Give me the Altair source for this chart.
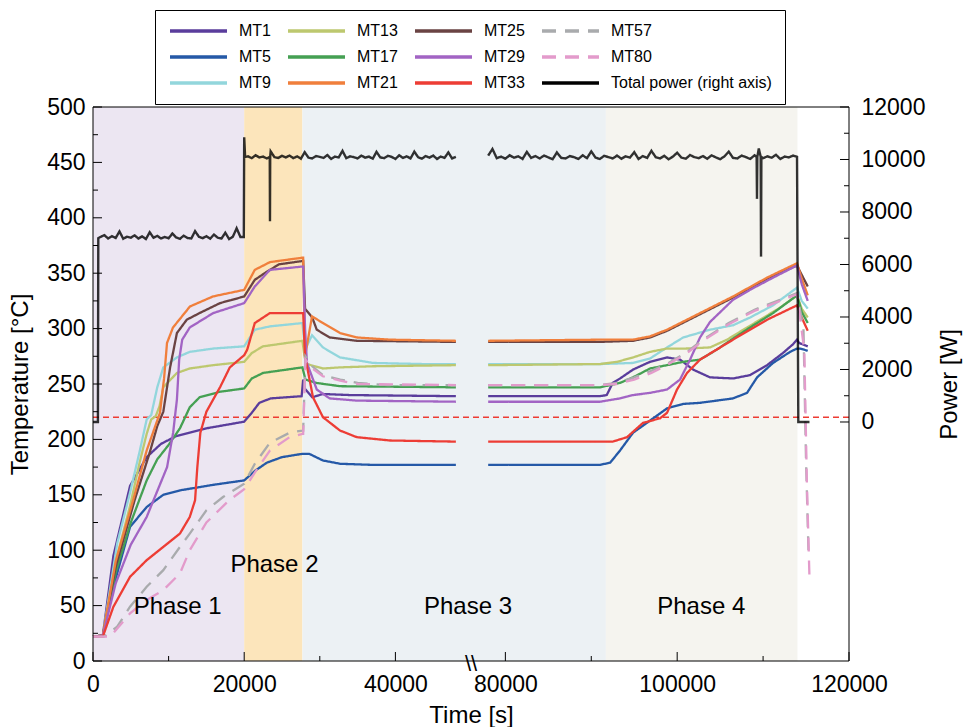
import altair as alt
import pandas as pd

FONT = "Liberation Sans"
POWER = "Total power (right axis)"
W, H = 756, 554  # plot area in px

# ---------------------------------------------------------------------------
# Thermocouple readings: time [s] and temperature [°C]
# ---------------------------------------------------------------------------
MT1_t = [0, 1300, 2700, 4900, 7100, 9000, 11000, 15000, 20000, 21000, 22000, 23500, 27600,
         27800, 28000, 29000, 30400, 34000, 48000,
         78000, 91000, 91800, 92500, 93350, 94860, 96840, 98820, 100330, 101850, 103820,
         106500, 108480, 110460, 112320, 113500, 113950, 114200, 115200]
MT1_v = [22, 23, 95, 158, 184, 196, 203, 210, 216, 224, 233, 237, 239,
         254, 246, 238, 241, 240, 239,
         239, 239, 240, 251, 255, 263, 270, 274, 272, 263, 256,
         255, 258, 267, 278, 286, 290, 287, 284]

MT5_t = [0, 1300, 2700, 4900, 7100, 9300, 11500, 15900, 20000, 21500, 23000, 25000, 27700,
         28600, 30400, 32700, 37000, 48000,
         78000, 91000, 92200, 93350, 94860, 96840, 98820, 100680, 102660, 106500, 108130,
         109300, 111160, 113140, 113950, 114300, 115200]
MT5_v = [22, 23, 67, 121, 139, 150, 154, 159, 163, 172, 179, 184, 187,
         187, 181, 178, 177, 177,
         177, 177, 179, 190, 206, 217, 228, 232, 233, 237, 242,
         256, 269, 279, 282, 282, 280]

MT9_t = [0, 1300, 3200, 4900, 6200, 7100, 7700, 8500, 9300, 11100, 12800, 15900, 20000,
         21400, 23400, 27700,
         28050, 28970, 30420, 32670, 37040, 43650, 48000,
         78000, 91000, 94860, 96840, 98820, 100700, 103820, 106500, 108480, 111160, 113950,
         114500, 115200]
MT9_v = [22, 23, 106, 152, 190, 218, 222, 247, 265, 274, 279, 282, 284,
         299, 302, 305,
         281, 294, 283, 274, 269, 268, 268,
         268, 268, 269, 273, 283, 292, 299, 303, 310, 321, 337,
         325, 318]

MT13_t = [0, 1300, 3200, 4900, 6200, 7100, 7700, 8300, 8800, 9300, 11100, 12800, 15900, 20000,
          21000, 22500, 27700,
          28000, 28300, 30400, 32700, 37000, 48000,
          78000, 91000, 93000, 94860, 96840, 98820, 101000, 103820, 105800, 107700, 109650,
          112000, 113950, 114500, 115200]
MT13_v = [22, 23, 95, 140, 180, 205, 218, 221, 230, 247, 260, 264, 267, 270,
          278, 284, 289,
          274, 268, 264, 265, 266, 267,
          267, 268, 270, 274, 279, 282, 282, 283, 290, 299, 308,
          319, 330, 318, 310]

MT17_t = [0, 1300, 3000, 5000, 7100, 8500, 10000, 11500, 12800, 14100, 16800, 20000,
          21000, 22500, 27700,
          28100, 29500, 32700, 48000,
          78000, 91000, 93350, 94860, 96840, 98820, 100700, 102660, 104600, 106500, 108480,
          111160, 113950, 114500, 115200]
MT17_v = [22, 23, 80, 125, 163, 182, 195, 210, 229, 238, 243, 246,
          255, 260, 265,
          254, 251, 248, 247,
          247, 247, 251, 256, 264, 267, 270, 272, 281, 291, 301,
          314, 330, 315, 305]

MT21_t = [0, 1300, 3000, 5300, 7100, 8860, 9400, 9790, 10580, 12830, 15870, 20000,
          21400, 23400, 27700,
          27800, 28050, 28970, 30420, 32670, 34900, 39300, 48000,
          78000, 91000, 94860, 96840, 98820, 102660, 106500, 110460, 113950, 114500, 115200]
MT21_v = [22, 23, 90, 145, 190, 224, 255, 287, 301, 320, 329, 335,
          353, 360, 364,
          364, 275, 311, 305, 296, 292, 290, 289,
          289, 290, 290, 293, 299, 314, 329, 346, 359, 345, 330]

MT25_t = [0, 1300, 3000, 5500, 7500, 8500, 9300, 10200, 11100, 12400, 14100, 16800, 20000,
          21400, 22700, 24600, 27700,
          27800, 28050, 29000, 29600, 31300, 34900, 48000,
          78000, 91000, 94860, 96840, 98820, 102660, 106500, 110460, 113950, 114400, 115200]
MT25_v = [22, 23, 85, 145, 188, 212, 225, 265, 296, 308, 314, 323, 329,
          344, 350, 358, 361,
          361, 318, 310, 299, 292, 289, 288,
          288, 288, 289, 292, 298, 313, 328, 345, 357, 350, 338]

MT29_t = [0, 1300, 3000, 5000, 7100, 9800, 10600, 11100, 11400, 11800, 12800, 15900, 20000,
          21400, 23400, 27700,
          27800, 28050, 28300, 29600, 31300, 34900, 48000,
          78000, 91000, 93350, 94860, 96840, 98820, 100330, 101500, 102660, 103820, 106500,
          108480, 111160, 113950, 114500, 115200]
MT29_v = [22, 23, 70, 105, 130, 175, 206, 236, 272, 290, 301, 314, 323,
          338, 353, 356,
          356, 300, 269, 245, 237, 235, 234,
          234, 234, 237, 240, 242, 245, 254, 272, 292, 306, 326,
          335, 346, 357, 340, 325]

MT33_t = [0, 1300, 2700, 4900, 7100, 9300, 11500, 12800, 13500, 13800, 14200, 15000, 16800,
          18100, 20000,
          20400, 21400, 23400, 27700,
          27800, 28050, 29100, 30420, 32670, 34900, 39300, 48000,
          78000, 92500, 94160, 96030, 98000, 98820, 99980, 101150, 102660, 106500, 110460,
          113950, 114500, 115200]
MT33_v = [22, 22, 49, 76, 91, 103, 115, 130, 145, 175, 206, 225, 247,
          265, 276,
          281, 305, 314, 314,
          314, 275, 238, 220, 208, 202, 199, 198,
          198, 198, 202, 215, 219, 224, 245, 260, 272, 290, 308,
          321, 310, 298]

MT57_t = [0, 1500, 3200, 4900, 7100, 9300, 11500, 12800, 15000, 17200, 20000,
          21400, 23400, 26000, 27700,
          27800, 28100, 29000, 30400, 32700, 35000, 39000, 48000,
          78000, 91000, 93000, 95000, 97000, 99000, 101000, 103000, 106000, 109000, 112000,
          113950, 114700, 115000, 115300]
MT57_v = [22, 22, 31, 49, 67, 82, 103, 115, 136, 148, 160,
          178, 197, 206, 208,
          208, 275, 266, 258, 254, 251, 249, 249,
          249, 249, 251, 256, 262, 269, 278, 290, 305, 317, 326,
          332, 300, 180, 95]

MT80_t = [0, 2300, 4900, 7100, 9300, 11500, 12800, 15000, 18000, 20000,
          21400, 23400, 26000, 27700,
          27800, 28100, 29000, 30400, 32700, 35000, 48000,
          78000, 91000, 93000, 95000, 97000, 99000, 101000, 103000, 106000, 109000, 112000,
          113950, 114800, 115100, 115400]
MT80_v = [22, 22, 43, 55, 64, 79, 100, 125, 145, 155,
          170, 190, 202, 205,
          205, 272, 264, 257, 253, 250, 249,
          249, 249, 250, 254, 260, 268, 277, 289, 304, 316, 325,
          331, 280, 160, 75]

# ---------------------------------------------------------------------------
# Heater power [W]: logged every 500 s, plus switching events and dips
# ---------------------------------------------------------------------------
PW1_start, PW1_w = 1000, [7050, 7120, 6990, 7080, 7010, 7260, 6980, 7060, 7020, 7110,
                          6990, 7070, 6970, 7230, 7020, 7090, 6990, 7050, 7000, 7180,
                          7030, 6980, 7100, 7010, 6990, 7270, 7060, 7000, 7080, 6980,
                          7140, 7020, 6990, 7210, 6970, 7060, 7380, 7050]
PW2_start, PW2_w = 20500, [10120, 10050, 10160, 10080, 10110, 10040, 10310, 10090, 10060, 10140,
                           10080, 10150, 10050, 10120, 10030, 10280, 10070, 10040, 10130, 10100,
                           10060, 10170, 10020, 10110, 10080, 10330, 10050, 10120, 10090, 10040,
                           10150, 10070, 10110, 10030, 10290, 10080, 10050, 10140, 10100, 10020,
                           10160, 10060, 10120, 10040, 10300, 10090, 10030, 10130, 10070, 10150,
                           10020, 10110, 10060, 10270, 10040, 10100]
PW3_start, PW3_w = 78000, [10150, 10400, 10050, 10110, 10030, 10160, 10070, 10120, 10020, 10290,
                           10060, 10130, 10040, 10150, 10080, 10010, 10270, 10060, 10040, 10130,
                           10090, 10020, 10160, 10050, 10310, 10070, 10020, 10140, 10090, 10040,
                           10150, 10030, 10120, 10070, 10280, 10020, 10130, 10060, 10330, 10090,
                           10040, 10140, 10010, 10110, 10260, 10070, 10030, 10170, 10090, 10050,
                           10130, 10030, 10160, 10080, 10010, 10120, 10300, 10060, 10040, 10150,
                           10090, 10020, 10160, 10420, 10050, 10120, 10070, 10180, 10020, 10110,
                           10080, 10150]
PW_events_t = [0, 650, 700, 19950, 20000, 20120, 23380, 23410, 23440,
               109250, 109290, 109330, 109720, 109760, 109800, 113950, 114100, 115400]
PW_events_w = [0, 0, 7000, 7050, 10850, 10100, 10100, 7650, 10100,
               10100, 8500, 10100, 10100, 6300, 10100, 10100, 0, 0]

# ---------------------------------------------------------------------------
# Test phases and their labels
# ---------------------------------------------------------------------------
phase_names = ["Phase 1", "Phase 2", "Phase 3", "Phase 4"]
phase_start = [0, 20000, 27700, 91700]
phase_end = [20000, 27700, 91700, 114000]
phase_fill = ["#ECE6F2", "#FCE5BB", "#ECF1F4", "#F5F4EF"]
label_t = [11200, 24000, 49600, 102800]
label_temp = [49, 87, 49, 49]

# Legend entries (a 3-row, 4-column legend filled column by column)
legend_order = ["MT1", "MT5", "MT9", "MT13", "MT17", "MT21",
                "MT25", "MT29", "MT33", "MT57", "MT80", POWER]
legend_colors = ["#5a3d9c", "#2559a7", "#92d6dc", "#bdc86f", "#45a053", "#f07f3c",
                 "#6a4343", "#a264c4", "#ed3d35", "#a9abad", "#e39bcb", "#000000"]
SOLID, DASHED = [1, 0], [14, 9]
legend_dash = [SOLID, SOLID, SOLID, SOLID, SOLID, SOLID,
               SOLID, SOLID, SOLID, DASHED, DASHED, SOLID]

# Axis ticks
temp_major = list(range(0, 501, 50))
temp_minor = list(range(25, 500, 50))
power_major = list(range(0, 12001, 2000))
power_minor = list(range(1000, 12000, 2000))
time_major = [0, 20000, 40000, 80000, 100000, 120000]
time_minor = [10000, 30000, 90000, 110000]

BREAK_LO, BREAK_HI = 50000, 76000  # gap in the time axis


def seg_of(t):
    return "early" if t <= BREAK_LO else "late"


temp_series = {
    "MT1": (MT1_t, MT1_v), "MT5": (MT5_t, MT5_v), "MT9": (MT9_t, MT9_v),
    "MT13": (MT13_t, MT13_v), "MT17": (MT17_t, MT17_v), "MT25": (MT25_t, MT25_v),
    "MT21": (MT21_t, MT21_v), "MT29": (MT29_t, MT29_v), "MT33": (MT33_t, MT33_v),
    "MT57": (MT57_t, MT57_v), "MT80": (MT80_t, MT80_v),
}
rows = []
for name, (ts, vs) in temp_series.items():
    for t, v in zip(ts, vs, strict=True):
        rows.append({"series": name, "t": t, "value": v, "seg": seg_of(t)})
temp_df = pd.DataFrame(rows)

pw_pts = list(zip(PW_events_t, PW_events_w, strict=True))
for start, ws in ((PW1_start, PW1_w), (PW2_start, PW2_w), (PW3_start, PW3_w)):
    pw_pts += [(start + 500 * i, w) for i, w in enumerate(ws)]
pw_pts.sort()
power_df = pd.DataFrame([{"series": POWER, "t": t, "value": w, "seg": seg_of(t)}
                         for t, w in pw_pts])

# ---------------------------------------------------------------------------
# Scales, axes, legend
# ---------------------------------------------------------------------------
xscale = alt.Scale(domain=[0, BREAK_LO, BREAK_HI, 120000], range=[0, 378, 378, W],
                   nice=False, zero=False)
tscale = alt.Scale(domain=[0, 500], nice=False, zero=False)
pscale = alt.Scale(domain=[-9105, 12000], nice=False, zero=False)

common_axis = dict(ticks=False, domain=False, grid=False, labelFlush=False,
                   labelFont=FONT, titleFont=FONT, labelFontSize=23, titleFontSize=24,
                   labelColor="black", titleColor="black", titleFontWeight="normal",
                   format="d")
x_axis = alt.Axis(values=time_major, title="Time [s]", labelPadding=12, titlePadding=7,
                  **common_axis)
left_axis = alt.Axis(values=temp_major, title="Temperature [°C]", labelPadding=8,
                     titlePadding=14, **common_axis)
right_axis = alt.Axis(values=power_major, title="Power [W]", orient="right", labelPadding=12,
                      titlePadding=37, titleAngle=270, **common_axis)

legend = alt.Legend(title=None, orient="none", legendX=62, legendY=-97, columns=4,
                    symbolType="stroke", symbolSize=3249, symbolStrokeWidth=3.5,
                    symbolOpacity=1, clipHeight=16, labelFont=FONT, labelFontSize=16,
                    labelColor="black", labelOffset=10, columnPadding=15, rowPadding=10,
                    padding=13, strokeColor="black", fillColor="white", labelLimit=400)
color_enc = alt.Color("series:N", scale=alt.Scale(domain=legend_order, range=legend_colors),
                      legend=legend)
dash_enc = alt.StrokeDash("series:N",
                          scale=alt.Scale(domain=legend_order, range=legend_dash),
                          legend=legend)

# ---------------------------------------------------------------------------
# Layers
# ---------------------------------------------------------------------------
phase_df = pd.DataFrame({"start": phase_start, "end": phase_end, "fill": phase_fill})
bands = alt.Chart(phase_df).mark_rect().encode(
    x=alt.X("start:Q", scale=xscale, axis=None), x2="end:Q",
    fill=alt.Fill("fill:N", scale=None, legend=None))

limit_line = alt.Chart(pd.DataFrame({"v": [220]})).mark_rule(
    color="#ee3b32", strokeDash=[6, 4], strokeWidth=1.3
).encode(y=alt.Y("v:Q", scale=tscale, axis=None))

temp_lines = alt.Chart(temp_df).mark_line(strokeWidth=2.3).encode(
    x=alt.X("t:Q", scale=xscale, axis=x_axis),
    y=alt.Y("value:Q", scale=tscale, axis=left_axis),
    color=color_enc, strokeDash=dash_enc, detail="seg:N")

power_line = alt.Chart(power_df).mark_line(strokeWidth=2.4, opacity=0.8).encode(
    x=alt.X("t:Q", scale=xscale, axis=None),
    y=alt.Y("value:Q", scale=pscale, axis=right_axis),
    color=color_enc, strokeDash=dash_enc, detail="seg:N")

phase_text = alt.Chart(pd.DataFrame({"label": phase_names, "t": label_t, "y": label_temp})
                       ).mark_text(font=FONT, fontSize=24, color="black").encode(
    x=alt.X("t:Q", scale=xscale, axis=None),
    y=alt.Y("y:Q", scale=tscale, axis=None), text="label:N")


def y_ticks(values, scale, x0, x1):
    return alt.Chart(pd.DataFrame({"v": values})).mark_rule(color="black", strokeWidth=1).encode(
        y=alt.Y("v:Q", scale=scale, axis=None), x=alt.value(x0), x2=alt.value(x1))


def x_ticks(values, length):
    return alt.Chart(pd.DataFrame({"v": values})).mark_rule(color="black", strokeWidth=1).encode(
        x=alt.X("v:Q", scale=xscale, axis=None), y=alt.value(H), y2=alt.value(H - length))


# Plot frame and the axis-break mark
frame = alt.Chart(pd.DataFrame({"k": [0]})).mark_rect(
    fillOpacity=0, stroke="black", strokeWidth=1
).encode(x=alt.value(0), x2=alt.value(W), y=alt.value(0), y2=alt.value(H))

break_mark = alt.Chart(pd.DataFrame({"t": [BREAK_LO]})).mark_text(
    text="\\\\", font=FONT, fontSize=22, color="black", dy=3
).encode(x=alt.X("t:Q", scale=xscale, axis=None), y=alt.value(H))

# Every x and y scale has a fixed domain and range, so resolving them
# independently keeps all layers aligned while each axis is drawn only once.
chart = alt.layer(
    bands, limit_line, temp_lines, phase_text, power_line,
    y_ticks(temp_major, tscale, 0, 9), y_ticks(temp_minor, tscale, 0, 5),
    y_ticks(power_major, pscale, W, W - 9), y_ticks(power_minor, pscale, W, W - 5),
    x_ticks(time_major, 9), x_ticks(time_minor, 5),
    frame, break_mark,
).resolve_scale(x="independent", y="independent").properties(
    width=W, height=H,
    autosize=alt.AutoSizeParams(type="none"),
    padding={"left": 93, "top": 107, "right": 115, "bottom": 66},
    background="white",
).configure(font=FONT).configure_view(stroke=None)

chart.save("out.html", embed_options={"renderer": "svg", "actions": False})
